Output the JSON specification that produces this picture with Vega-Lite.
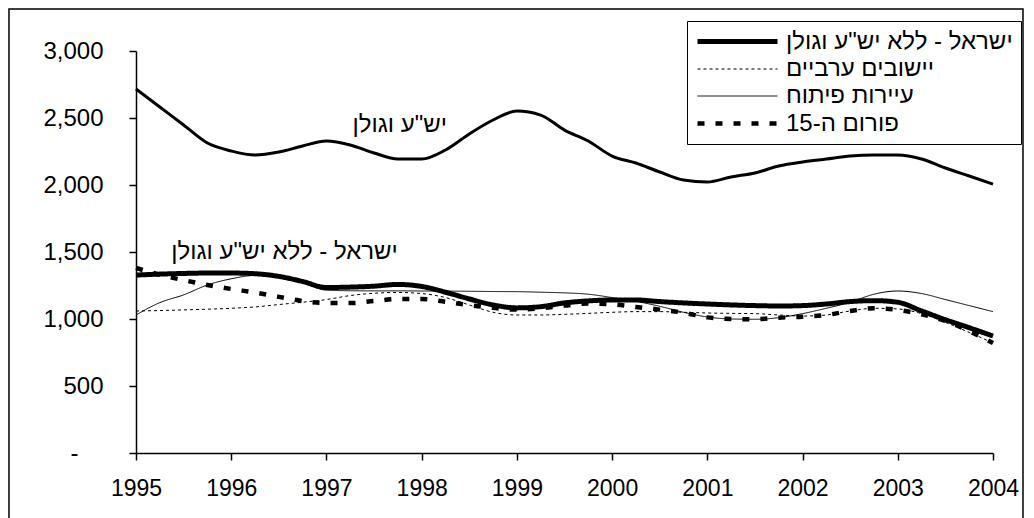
{
  "$schema": "https://vega.github.io/schema/vega-lite/v6.json",
  "autosize": {"type": "none"},
  "width": 857,
  "height": 402,
  "padding": {"left": 136, "top": 51, "right": 41, "bottom": 65},
  "background": "white",
  "config": {"view": {"stroke": null}, "font": "Liberation Sans"},
  "datasets": {
    "series": [
      {"s":"יש\"ע וגולן","t":1995,"v":2716},{"s":"יש\"ע וגולן","t":1995.25,"v":2582},{"s":"יש\"ע וגולן","t":1995.5,"v":2448},{"s":"יש\"ע וגולן","t":1995.75,"v":2313},
      {"s":"יש\"ע וגולן","t":1996,"v":2254},{"s":"יש\"ע וגולן","t":1996.25,"v":2224},{"s":"יש\"ע וגולן","t":1996.5,"v":2246},{"s":"יש\"ע וגולן","t":1996.75,"v":2291},
      {"s":"יש\"ע וגולן","t":1997,"v":2328},{"s":"יש\"ע וגולן","t":1997.25,"v":2299},{"s":"יש\"ע וגולן","t":1997.5,"v":2239},{"s":"יש\"ע וגולן","t":1997.75,"v":2194},
      {"s":"יש\"ע וגולן","t":1998,"v":2194},{"s":"יש\"ע וגולן","t":1998.25,"v":2261},{"s":"יש\"ע וגולן","t":1998.5,"v":2381},{"s":"יש\"ע וגולן","t":1998.75,"v":2485},
      {"s":"יש\"ע וגולן","t":1999,"v":2552},{"s":"יש\"ע וגולן","t":1999.25,"v":2522},{"s":"יש\"ע וגולן","t":1999.5,"v":2410},{"s":"יש\"ע וגולן","t":1999.75,"v":2328},
      {"s":"יש\"ע וגולן","t":2000,"v":2216},{"s":"יש\"ע וגולן","t":2000.25,"v":2164},{"s":"יש\"ע וגולן","t":2000.5,"v":2097},{"s":"יש\"ע וגולן","t":2000.75,"v":2037},
      {"s":"יש\"ע וגולן","t":2001,"v":2022},{"s":"יש\"ע וגולן","t":2001.25,"v":2060},{"s":"יש\"ע וגולן","t":2001.5,"v":2090},{"s":"יש\"ע וגולן","t":2001.75,"v":2142},
      {"s":"יש\"ע וגולן","t":2002,"v":2172},{"s":"יש\"ע וגולן","t":2002.25,"v":2194},{"s":"יש\"ע וגולן","t":2002.5,"v":2216},{"s":"יש\"ע וגולן","t":2002.75,"v":2224},
      {"s":"יש\"ע וגולן","t":2003,"v":2224},{"s":"יש\"ע וגולן","t":2003.25,"v":2194},{"s":"יש\"ע וגולן","t":2003.5,"v":2127},{"s":"יש\"ע וגולן","t":2003.75,"v":2067},
      {"s":"יש\"ע וגולן","t":2004,"v":2007},

      {"s":"ישראל - ללא יש\"ע וגולן","t":1995,"v":1328},{"s":"ישראל - ללא יש\"ע וגולן","t":1995.25,"v":1335},{"s":"ישראל - ללא יש\"ע וגולן","t":1995.5,"v":1340},{"s":"ישראל - ללא יש\"ע וגולן","t":1995.75,"v":1343},
      {"s":"ישראל - ללא יש\"ע וגולן","t":1996,"v":1343},{"s":"ישראל - ללא יש\"ע וגולן","t":1996.25,"v":1338},{"s":"ישראל - ללא יש\"ע וגולן","t":1996.5,"v":1318},{"s":"ישראל - ללא יש\"ע וגולן","t":1996.75,"v":1280},
      {"s":"ישראל - ללא יש\"ע וגולן","t":1997,"v":1235},{"s":"ישראל - ללא יש\"ע וגולן","t":1997.25,"v":1238},{"s":"ישראל - ללא יש\"ע וגולן","t":1997.5,"v":1245},{"s":"ישראל - ללא יש\"ע וגולן","t":1997.75,"v":1258},
      {"s":"ישראל - ללא יש\"ע וגולן","t":1998,"v":1243},{"s":"ישראל - ללא יש\"ע וגולן","t":1998.25,"v":1200},{"s":"ישראל - ללא יש\"ע וגולן","t":1998.5,"v":1150},{"s":"ישראל - ללא יש\"ע וגולן","t":1998.75,"v":1105},
      {"s":"ישראל - ללא יש\"ע וגולן","t":1999,"v":1083},{"s":"ישראל - ללא יש\"ע וגולן","t":1999.25,"v":1092},{"s":"ישראל - ללא יש\"ע וגולן","t":1999.5,"v":1120},{"s":"ישראל - ללא יש\"ע וגולן","t":1999.75,"v":1135},
      {"s":"ישראל - ללא יש\"ע וגולן","t":2000,"v":1142},{"s":"ישראל - ללא יש\"ע וגולן","t":2000.25,"v":1142},{"s":"ישראל - ללא יש\"ע וגולן","t":2000.5,"v":1130},{"s":"ישראל - ללא יש\"ע וגולן","t":2000.75,"v":1120},
      {"s":"ישראל - ללא יש\"ע וגולן","t":2001,"v":1112},{"s":"ישראל - ללא יש\"ע וגולן","t":2001.25,"v":1105},{"s":"ישראל - ללא יש\"ע וגולן","t":2001.5,"v":1100},{"s":"ישראל - ללא יש\"ע וגולן","t":2001.75,"v":1097},
      {"s":"ישראל - ללא יש\"ע וגולן","t":2002,"v":1100},{"s":"ישראל - ללא יש\"ע וגולן","t":2002.25,"v":1112},{"s":"ישראל - ללא יש\"ע וגולן","t":2002.5,"v":1130},{"s":"ישראל - ללא יש\"ע וגולן","t":2002.75,"v":1137},
      {"s":"ישראל - ללא יש\"ע וגולן","t":2003,"v":1125},{"s":"ישראל - ללא יש\"ע וגולן","t":2003.25,"v":1060},{"s":"ישראל - ללא יש\"ע וגולן","t":2003.5,"v":995},{"s":"ישראל - ללא יש\"ע וגולן","t":2003.75,"v":935},
      {"s":"ישראל - ללא יש\"ע וגולן","t":2004,"v":873},

      {"s":"יישובים ערביים","t":1995,"v":1060},{"s":"יישובים ערביים","t":1995.25,"v":1063},{"s":"יישובים ערביים","t":1995.5,"v":1068},{"s":"יישובים ערביים","t":1995.75,"v":1073},
      {"s":"יישובים ערביים","t":1996,"v":1080},{"s":"יישובים ערביים","t":1996.25,"v":1090},{"s":"יישובים ערביים","t":1996.5,"v":1108},{"s":"יישובים ערביים","t":1996.75,"v":1125},
      {"s":"יישובים ערביים","t":1997,"v":1145},{"s":"יישובים ערביים","t":1997.25,"v":1175},{"s":"יישובים ערביים","t":1997.5,"v":1192},{"s":"יישובים ערביים","t":1997.75,"v":1198},
      {"s":"יישובים ערביים","t":1998,"v":1190},{"s":"יישובים ערביים","t":1998.25,"v":1160},{"s":"יישובים ערביים","t":1998.5,"v":1105},{"s":"יישובים ערביים","t":1998.75,"v":1050},
      {"s":"יישובים ערביים","t":1999,"v":1030},{"s":"יישובים ערביים","t":1999.25,"v":1030},{"s":"יישובים ערביים","t":1999.5,"v":1035},{"s":"יישובים ערביים","t":1999.75,"v":1042},
      {"s":"יישובים ערביים","t":2000,"v":1050},{"s":"יישובים ערביים","t":2000.25,"v":1055},{"s":"יישובים ערביים","t":2000.5,"v":1055},{"s":"יישובים ערביים","t":2000.75,"v":1050},
      {"s":"יישובים ערביים","t":2001,"v":1045},{"s":"יישובים ערביים","t":2001.25,"v":1042},{"s":"יישובים ערביים","t":2001.5,"v":1040},{"s":"יישובים ערביים","t":2001.75,"v":1030},
      {"s":"יישובים ערביים","t":2002,"v":1022},{"s":"יישובים ערביים","t":2002.25,"v":1030},{"s":"יישובים ערביים","t":2002.5,"v":1060},{"s":"יישובים ערביים","t":2002.75,"v":1080},
      {"s":"יישובים ערביים","t":2003,"v":1075},{"s":"יישובים ערביים","t":2003.25,"v":1040},{"s":"יישובים ערביים","t":2003.5,"v":975},{"s":"יישובים ערביים","t":2003.75,"v":900},
      {"s":"יישובים ערביים","t":2004,"v":821},

      {"s":"עיירות פיתוח","t":1995,"v":1030},{"s":"עיירות פיתוח","t":1995.25,"v":1122},{"s":"עיירות פיתוח","t":1995.5,"v":1180},{"s":"עיירות פיתוח","t":1995.75,"v":1254},
      {"s":"עיירות פיתוח","t":1996,"v":1300},{"s":"עיירות פיתוח","t":1996.25,"v":1325},{"s":"עיירות פיתוח","t":1996.5,"v":1315},{"s":"עיירות פיתוח","t":1996.75,"v":1270},
      {"s":"עיירות פיתוח","t":1997,"v":1215},{"s":"עיירות פיתוח","t":1997.25,"v":1211},{"s":"עיירות פיתוח","t":1997.5,"v":1210},{"s":"עיירות פיתוח","t":1997.75,"v":1210},
      {"s":"עיירות פיתוח","t":1998,"v":1209},{"s":"עיירות פיתוח","t":1998.25,"v":1208},{"s":"עיירות פיתוח","t":1998.5,"v":1207},{"s":"עיירות פיתוח","t":1998.75,"v":1205},
      {"s":"עיירות פיתוח","t":1999,"v":1204},{"s":"עיירות פיתוח","t":1999.25,"v":1200},{"s":"עיירות פיתוח","t":1999.5,"v":1195},{"s":"עיירות פיתוח","t":1999.75,"v":1185},
      {"s":"עיירות פיתוח","t":2000,"v":1160},{"s":"עיירות פיתוח","t":2000.25,"v":1132},{"s":"עיירות פיתוח","t":2000.5,"v":1095},{"s":"עיירות פיתוח","t":2000.75,"v":1050},
      {"s":"עיירות פיתוח","t":2001,"v":1015},{"s":"עיירות פיתוח","t":2001.25,"v":1000},{"s":"עיירות פיתוח","t":2001.5,"v":998},{"s":"עיירות פיתוח","t":2001.75,"v":1010},
      {"s":"עיירות פיתוח","t":2002,"v":1040},{"s":"עיירות פיתוח","t":2002.25,"v":1080},{"s":"עיירות פיתוח","t":2002.5,"v":1125},{"s":"עיירות פיתוח","t":2002.75,"v":1185},
      {"s":"עיירות פיתוח","t":2003,"v":1209},{"s":"עיירות פיתוח","t":2003.25,"v":1190},{"s":"עיירות פיתוח","t":2003.5,"v":1145},{"s":"עיירות פיתוח","t":2003.75,"v":1100},
      {"s":"עיירות פיתוח","t":2004,"v":1055},

      {"s":"פורום ה-15","t":1995,"v":1381},{"s":"פורום ה-15","t":1995.25,"v":1330},{"s":"פורום ה-15","t":1995.5,"v":1290},{"s":"פורום ה-15","t":1995.75,"v":1254},
      {"s":"פורום ה-15","t":1996,"v":1224},{"s":"פורום ה-15","t":1996.25,"v":1197},{"s":"פורום ה-15","t":1996.5,"v":1165},{"s":"פורום ה-15","t":1996.75,"v":1134},
      {"s":"פורום ה-15","t":1997,"v":1119},{"s":"פורום ה-15","t":1997.25,"v":1119},{"s":"פורום ה-15","t":1997.5,"v":1134},{"s":"פורום ה-15","t":1997.75,"v":1149},
      {"s":"פורום ה-15","t":1998,"v":1149},{"s":"פורום ה-15","t":1998.25,"v":1129},{"s":"פורום ה-15","t":1998.5,"v":1104},{"s":"פורום ה-15","t":1998.75,"v":1083},
      {"s":"פורום ה-15","t":1999,"v":1070},{"s":"פורום ה-15","t":1999.25,"v":1080},{"s":"פורום ה-15","t":1999.5,"v":1100},{"s":"פורום ה-15","t":1999.75,"v":1115},
      {"s":"פורום ה-15","t":2000,"v":1110},{"s":"פורום ה-15","t":2000.25,"v":1090},{"s":"פורום ה-15","t":2000.5,"v":1070},{"s":"פורום ה-15","t":2000.75,"v":1047},
      {"s":"פורום ה-15","t":2001,"v":1012},{"s":"פורום ה-15","t":2001.25,"v":1000},{"s":"פורום ה-15","t":2001.5,"v":998},{"s":"פורום ה-15","t":2001.75,"v":1010},
      {"s":"פורום ה-15","t":2002,"v":1017},{"s":"פורום ה-15","t":2002.25,"v":1030},{"s":"פורום ה-15","t":2002.5,"v":1060},{"s":"פורום ה-15","t":2002.75,"v":1080},
      {"s":"פורום ה-15","t":2003,"v":1068},{"s":"פורום ה-15","t":2003.25,"v":1035},{"s":"פורום ה-15","t":2003.5,"v":985},{"s":"פורום ה-15","t":2003.75,"v":910},
      {"s":"פורום ה-15","t":2004,"v":821}
    ],
    "labels": [
      {"label": "יש\"ע וגולן", "t": 1997.77, "v": 2450},
      {"label": "ישראל - ללא יש\"ע וגולן", "t": 1996.56, "v": 1500}
    ]
  },
  "layer": [
    {
      "data": {"values": [{}]},
      "mark": {"type": "rect", "fill": null, "stroke": "black", "strokeWidth": 1.5, "clip": false},
      "encoding": {
        "x": {"datum": 1993.666, "type": "quantitative"},
        "x2": {"datum": 2004.315},
        "y": {"datum": 3313, "type": "quantitative"},
        "y2": {"datum": -700}
      }
    },
    {
      "data": {"name": "series"},
      "transform": [{"filter": "datum.s === 'יש\"ע וגולן'"}],
      "mark": {"type": "line", "stroke": "black", "strokeWidth": 3, "interpolate": "monotone"},
      "encoding": {
        "x": {"field": "t", "type": "quantitative"},
        "y": {"field": "v", "type": "quantitative"}
      }
    },
    {
      "data": {"name": "series"},
      "transform": [{"filter": "datum.s !== 'יש\"ע וגולן'"}],
      "mark": {"type": "line", "interpolate": "monotone"},
      "encoding": {
        "x": {
          "field": "t", "type": "quantitative",
          "scale": {"domain": [1995, 2004], "nice": false, "zero": false},
          "axis": {
            "title": null, "values": [1995,1996,1997,1998,1999,2000,2001,2002,2003,2004],
            "format": "d", "grid": false, "tickSize": 7, "tickColor": "black", "tickWidth": 1.5,
            "domainColor": "black", "domainWidth": 1.5, "labelColor": "black", "labelFlush": false,
            "labelFontSize": 23, "labelFontWeight": "normal", "labelPadding": 17, "labelFont": "Liberation Sans"
          }
        },
        "y": {
          "field": "v", "type": "quantitative",
          "scale": {"domain": [0, 3000], "nice": false},
          "axis": {
            "title": null, "values": [0,500,1000,1500,2000,2500,3000],
            "labelExpr": "datum.value == 0 ? '-' : format(datum.value, ',')",
            "grid": false, "tickSize": 7, "tickColor": "black", "tickWidth": 1.5,
            "domainColor": "black", "domainWidth": 1.5, "labelColor": "black",
            "labelFontSize": 24, "labelFontWeight": "normal",
            "labelPadding": {"condition": {"test": "datum.value == 0", "value": 51}, "value": 26}
          }
        },
        "color": {
          "field": "s", "type": "nominal",
          "scale": {"domain": ["ישראל - ללא יש\"ע וגולן", "יישובים ערביים", "עיירות פיתוח", "פורום ה-15"], "range": ["black","black","black","black"]},
          "legend": {
            "title": null, "orient": "none", "legendX": 551, "legendY": -30,
            "symbolType": "M-1,0H7", "symbolSize": 400, "labelFontSize": 24, "labelColor": "black",
            "labelLimit": 400, "labelOffset": 66, "rowPadding": 3, "padding": 8,
            "strokeColor": "black", "fillColor": "white", "symbolStrokeColor": "black", "symbolFillColor": "transparent"
          }
        },
        "strokeDash": {
          "field": "s", "type": "nominal",
          "scale": {"domain": ["ישראל - ללא יש\"ע וגולן", "יישובים ערביים", "עיירות פיתוח", "פורום ה-15"], "range": [[1,0],[3,3],[1,0],[7,11]]},
          "legend": {
            "title": null, "orient": "none", "legendX": 551, "legendY": -30,
            "symbolType": "M-1,0H7", "symbolSize": 400, "labelFontSize": 24, "labelColor": "black",
            "labelLimit": 400, "labelOffset": 66, "rowPadding": 3, "padding": 8,
            "strokeColor": "black", "fillColor": "white", "symbolFillColor": "transparent"
          }
        },
        "strokeWidth": {
          "field": "s", "type": "nominal",
          "scale": {"type": "ordinal", "domain": ["ישראל - ללא יש\"ע וגולן", "יישובים ערביים", "עיירות פיתוח", "פורום ה-15"], "range": [5,1,1,4.5]},
          "legend": {
            "title": null, "orient": "none", "legendX": 551, "legendY": -30,
            "symbolType": "M-1,0H7", "symbolSize": 400, "labelFontSize": 24, "labelColor": "black",
            "labelLimit": 400, "labelOffset": 66, "rowPadding": 3, "padding": 8,
            "strokeColor": "black", "fillColor": "white", "symbolFillColor": "transparent"
          }
        }
      }
    },
    {
      "data": {"name": "labels"},
      "mark": {"type": "text", "fontSize": 24, "font": "Liberation Sans", "align": "center", "baseline": "middle", "color": "black"},
      "encoding": {
        "x": {"field": "t", "type": "quantitative"},
        "y": {"field": "v", "type": "quantitative"},
        "text": {"field": "label"}
      }
    }
  ]
}
